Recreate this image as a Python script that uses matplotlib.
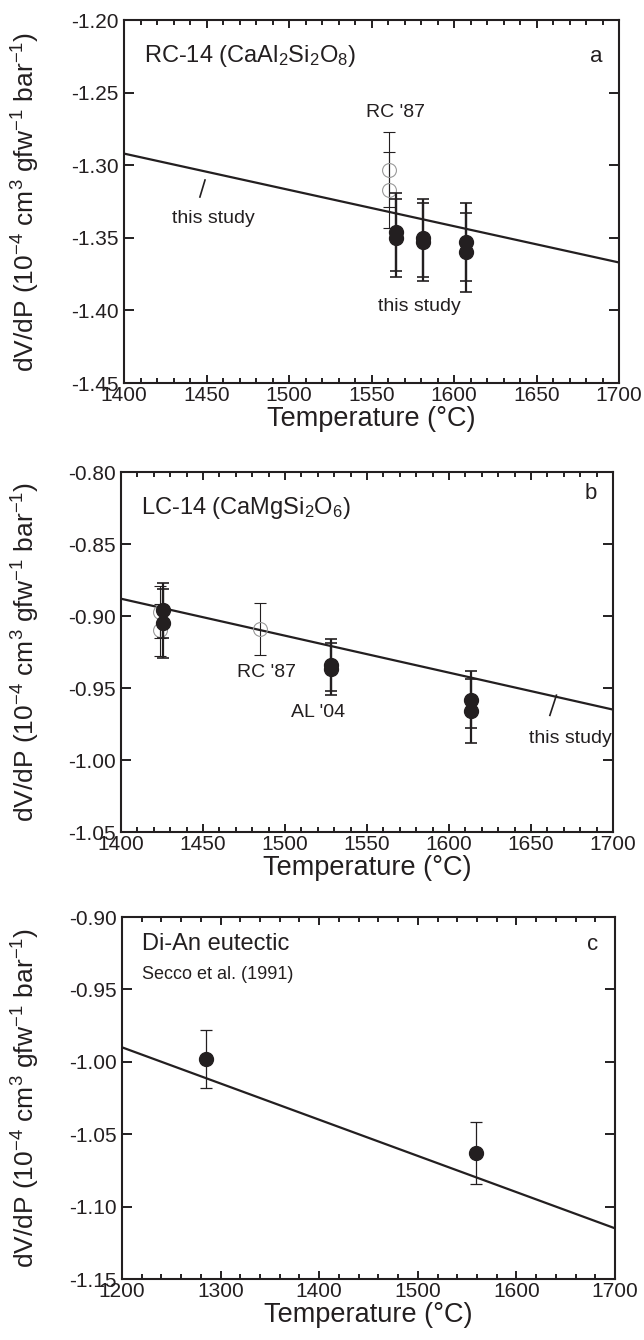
import matplotlib.pyplot as plt
from matplotlib.ticker import MultipleLocator, FormatStrFormatter

plt.rcParams['font.family'] = ['Liberation Sans', 'DejaVu Sans']
plt.rcParams['mathtext.fontset'] = 'custom'
plt.rcParams['mathtext.rm'] = 'Liberation Sans'
plt.rcParams['mathtext.it'] = 'Liberation Sans:italic'
plt.rcParams['axes.unicode_minus'] = False

# panel a: RC-14
a_line_T = [1400, 1700]
a_line_v = [-1.292, -1.367]
a_T = [1564.6, 1564.6, 1581.4, 1581.4, 1607.3, 1607.3]
a_v = [-1.346, -1.350, -1.350, -1.353, -1.353, -1.360]
a_err = [0.027, 0.027, 0.027, 0.027, 0.027, 0.027]
a_rc_T = [1560.6, 1560.6]
a_rc_v = [-1.303, -1.317]
a_rc_err = [0.026, 0.026]

# panel b: LC-14
b_line_T = [1400, 1700]
b_line_v = [-0.888, -0.965]
b_T = [1425.4, 1425.4, 1528, 1528, 1613.4, 1613.4]
b_v = [-0.896, -0.905, -0.934, -0.937, -0.958, -0.966]
b_err = [0.019, 0.024, 0.018, 0.018, 0.0195, 0.022]
b_rc_T = [1424, 1424, 1485]
b_rc_v = [-0.897, -0.910, -0.909]
b_rc_err = [0.018, 0.018, 0.018]

# panel c: Di-An eutectic
c_line_T = [1200, 1700]
c_line_v = [-0.990, -1.115]
c_T = [1285, 1559]
c_v = [-0.998, -1.063]
c_err = [0.020, 0.0215]

k = '#231f20'
ylab = 'dV/dP (10$^{\\mathrm{-4}}$ cm$^{3}$ gfw$^{\\mathrm{-1}}$ bar$^{\\mathrm{-1}}$)'

fig = plt.figure(figsize=(6.44, 13.40), dpi=100)
W, H = 644, 1340


def make_ax(l, r, t, b):
    return fig.add_axes([l / W, 1 - b / H, (r - l) / W, (b - t) / H])


def style(ax, xlim, ylim, xmaj, xmin, lpx):
    ax.set_xlim(*xlim)
    ax.set_ylim(*ylim)
    ax.xaxis.set_major_locator(MultipleLocator(xmaj))
    ax.xaxis.set_minor_locator(MultipleLocator(xmin))
    ax.yaxis.set_major_locator(MultipleLocator(0.05))
    ax.yaxis.set_major_formatter(FormatStrFormatter('%.2f'))
    ax.tick_params(which='both', direction='in', top=True, right=True,
                   color=k, labelsize=15, labelcolor=k, width=1.4)
    ax.tick_params(axis='y', which='major', length=7, pad=4)
    ax.tick_params(axis='x', which='major', length=6, pad=2)
    ax.tick_params(axis='x', which='minor', length=3.5)
    for s in ax.spines.values():
        s.set_linewidth(1.5)
        s.set_color(k)
    ax.set_xlabel('Temperature (°C)', fontsize=19.5, color=k, labelpad=1)
    ax.set_ylabel(ylab, fontsize=19, color=k)
    ax.yaxis.set_label_coords(lpx, 0.5)


def filled(ax, T, v, e, lw=1.6):
    ax.errorbar(T, v, yerr=e, fmt='o', color=k, ms=10, elinewidth=lw,
                capsize=4, capthick=1.2, zorder=4)


def hollow(ax, T, v, e):
    ax.errorbar(T, v, yerr=e, fmt='o', mfc='none', mec='#9a9a9a', mew=0.8,
                ms=10, ecolor=k, elinewidth=0.8, capsize=4, capthick=0.8,
                zorder=3)


# panel a
ax = make_ax(124, 619, 20, 383)
ax.plot(a_line_T, a_line_v, color=k, lw=1.6)
hollow(ax, a_rc_T, a_rc_v, a_rc_err)
filled(ax, a_T, a_v, a_err)
style(ax, (1400, 1700), (-1.45, -1.20), 50, 10, -0.165)
ax.text(0.04, 0.9, 'RC-14 (CaAl$_2$Si$_2$O$_8$)', transform=ax.transAxes,
        fontsize=17, color=k, va='center')
ax.text(0.955, 0.9, 'a', transform=ax.transAxes, fontsize=16, color=k,
        va='center', ha='center')
ax.text(1564.8, -1.264, "RC '87", fontsize=14, color=k, ha='center', va='center')
ax.text(1578.8, -1.397, 'this study', fontsize=14, color=k, ha='center', va='center')
ax.text(1453.9, -1.3364, 'this study', fontsize=14, color=k, ha='center', va='center')
ax.plot([1449.1, 1446.0], [-1.3102, -1.3219], color=k, lw=1.2)

# panel b
ax = make_ax(121, 613, 472, 832)
ax.plot(b_line_T, b_line_v, color=k, lw=1.6)
hollow(ax, b_rc_T, b_rc_v, b_rc_err)
filled(ax, b_T, b_v, b_err)
style(ax, (1400, 1700), (-1.05, -0.80), 50, 10, -0.16)
ax.text(0.04, 0.9, 'LC-14 (CaMgSi$_2$O$_6$)', transform=ax.transAxes,
        fontsize=17, color=k, va='center')
ax.text(0.955, 0.94, 'b', transform=ax.transAxes, fontsize=16, color=k,
        va='center', ha='center')
ax.text(1489, -0.939, "RC '87", fontsize=14, color=k, ha='center', va='center')
ax.text(1520, -0.967, "AL '04", fontsize=14, color=k, ha='center', va='center')
ax.text(1674, -0.985, 'this study', fontsize=14, color=k, ha='center', va='center')
ax.plot([1665.5, 1661.5], [-0.955, -0.969], color=k, lw=1.2)

# panel c
ax = make_ax(122, 615, 917, 1279)
ax.plot(c_line_T, c_line_v, color=k, lw=1.6)
ax.errorbar(c_T, c_v, yerr=c_err, fmt='o', color=k, ms=10, elinewidth=0.9,
            capsize=4, capthick=0.9, zorder=4)
style(ax, (1200, 1700), (-1.15, -0.90), 100, 20, -0.162)
ax.text(0.04, 0.925, 'Di-An eutectic', transform=ax.transAxes,
        fontsize=17, color=k, va='center')
ax.text(0.04, 0.84, 'Secco et al. (1991)', transform=ax.transAxes,
        fontsize=13, color=k, va='center')
ax.text(0.955, 0.925, 'c', transform=ax.transAxes, fontsize=16, color=k,
        va='center', ha='center')

fig.savefig('out.png', dpi=100)
